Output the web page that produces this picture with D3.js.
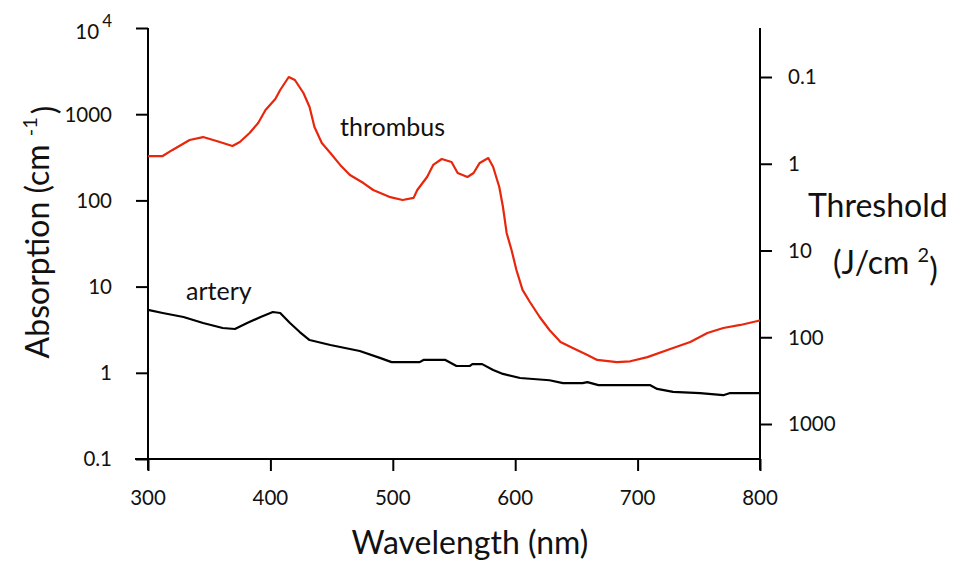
<!DOCTYPE html>
<html>
<head>
<meta charset="utf-8">
<script src="https://cdn.jsdelivr.net/npm/d3@7"></script>
<style>
  body { margin: 0; background: #fff; }
  svg { display: block; font-family: Lato, "Open Sans", sans-serif; }
</style>
</head>
<body>
<svg id="chart" width="953" height="565"></svg>
<script>
// ---- data ----
const wavelengthTicks = [300, 400, 500, 600, 700, 800];
const absorptionTicks = [0.1, 1, 10, 100, 1000, 10000];
const absorptionTickLabels = ["0.1", "1", "10", "100", "1000", "10^4"];
const thresholdTicks = [0.1, 1, 10, 100, 1000];
const thresholdTickLabels = ["0.1", "1", "10", "100", "1000"];

const thrombusWavelength = [300, 312, 320, 334, 345, 356, 369, 375, 383, 390, 396, 404, 408, 415, 420, 427, 432, 436, 442, 449, 457, 465, 476, 484, 498, 508, 517, 520, 528, 533, 540, 548, 553, 561, 566, 571, 578, 582, 587, 590, 593, 597, 601, 606, 612, 620, 628, 637, 647, 659, 667, 683, 694, 708, 729, 743, 757, 770, 784, 798, 800];
const thrombusAbsorption = [327, 327, 385, 502, 543, 489, 428, 476, 605, 790, 1119, 1500, 1909, 2700, 2493, 1762, 1212, 711, 463, 355, 258, 197, 159, 132, 109, 101, 107, 132, 187, 258, 302, 279, 208, 187, 208, 272, 310, 244, 143, 83.8, 41.9, 26.6, 15.6, 9.15, 6.63, 4.44, 3.14, 2.28, 1.94, 1.61, 1.41, 1.33, 1.36, 1.52, 1.94, 2.28, 2.90, 3.31, 3.59, 3.99, 4.05];

const arteryWavelength = [300, 312, 329, 345, 361, 371, 381, 392, 402, 408, 416, 424, 432, 449, 473, 490, 499, 522, 525, 543, 552, 563, 565, 573, 582, 590, 604, 628, 639, 655, 659, 668, 710, 716, 729, 751, 770, 775, 800];
const arteryAbsorption = [5.36, 4.94, 4.44, 3.78, 3.31, 3.22, 3.78, 4.44, 5.07, 4.94, 3.78, 2.97, 2.40, 2.10, 1.79, 1.48, 1.33, 1.33, 1.41, 1.41, 1.20, 1.20, 1.26, 1.26, 1.08, 0.97, 0.87, 0.82, 0.76, 0.76, 0.78, 0.72, 0.72, 0.65, 0.60, 0.58, 0.55, 0.58, 0.58];

// ---- layout ----
const svg = d3.select("#chart");
const mLeft = 148, mRight = 760, mTop = 28, mBottom = 459;

const x = d3.scaleLinear().domain([300, 800]).range([mLeft, mRight]);
const y = d3.scaleLog().domain([0.1, 10000]).range([mBottom, mTop]);
const yR = d3.scaleLog().domain([0.1, 1000]).range([77, 424]);

const tickFont = 20.5;
const titleFont = 32;

// left axis
const gL = svg.append("g").attr("transform", `translate(${mLeft},0)`)
  .call(d3.axisLeft(y).tickValues(absorptionTicks).tickSize(12).tickFormat(() => ""));
gL.select(".domain").remove();
gL.selectAll(".tick line").attr("stroke", "#000").attr("stroke-width", 2);
svg.append("line").attr("x1", mLeft).attr("x2", mLeft).attr("y1", mTop).attr("y2", mBottom + 11)
  .attr("stroke", "#000").attr("stroke-width", 2);

absorptionTicks.forEach((v, i) => {
  const lab = absorptionTickLabels[i];
  const t = svg.append("text").attr("x", 112).attr("y", y(v)).attr("dy", "0.36em")
    .attr("text-anchor", "end").attr("font-size", tickFont).attr("fill", "#111");
  if (lab.includes("^")) {
    const [b, e] = lab.split("^");
    t.attr("dy", "0.55em");
    t.append("tspan").text(b);
    t.append("tspan").attr("dx", 3).attr("dy", "-0.75em").attr("font-size", 17).text(e);
  } else {
    t.text(lab);
  }
});

// bottom axis
const gB = svg.append("g").attr("transform", `translate(0,${mBottom})`)
  .call(d3.axisBottom(x).tickValues(wavelengthTicks).tickSize(12).tickFormat(() => ""));
gB.select(".domain").remove();
gB.selectAll(".tick line").attr("stroke", "#000").attr("stroke-width", 2);
svg.append("line").attr("x1", 135).attr("x2", mRight).attr("y1", mBottom).attr("y2", mBottom)
  .attr("stroke", "#000").attr("stroke-width", 2);
wavelengthTicks.forEach(v => {
  svg.append("text").attr("x", x(v)).attr("y", 505).attr("text-anchor", "middle")
    .attr("font-size", tickFont).attr("fill", "#111").text(v);
});

// right axis
const gR = svg.append("g").attr("transform", `translate(${mRight},0)`)
  .call(d3.axisRight(yR).tickValues(thresholdTicks).tickSize(12).tickFormat(() => ""));
gR.select(".domain").remove();
gR.selectAll(".tick line").attr("stroke", "#000").attr("stroke-width", 2);
svg.append("line").attr("x1", mRight).attr("x2", mRight).attr("y1", mTop).attr("y2", mBottom + 11)
  .attr("stroke", "#000").attr("stroke-width", 2);
thresholdTicks.forEach((v, i) => {
  svg.append("text").attr("x", 788).attr("y", yR(v)).attr("dy", "0.36em")
    .attr("font-size", tickFont).attr("fill", "#111").text(thresholdTickLabels[i]);
});

// lines
const line = d3.line().x(d => x(d[0])).y(d => y(d[1])).curve(d3.curveLinear);
svg.append("path")
  .datum(thrombusWavelength.map((w, i) => [w, thrombusAbsorption[i]]))
  .attr("d", line).attr("fill", "none").attr("stroke", "#e8260c").attr("stroke-width", 2.2)
  .attr("stroke-linejoin", "round");
svg.append("path")
  .datum(arteryWavelength.map((w, i) => [w, arteryAbsorption[i]]))
  .attr("d", line).attr("fill", "none").attr("stroke", "#000").attr("stroke-width", 2.2)
  .attr("stroke-linejoin", "round");

// annotations
svg.append("text").attr("x", 340).attr("y", 136).attr("font-size", 25).attr("fill", "#111").text("thrombus");
svg.append("text").attr("x", 186).attr("y", 300).attr("font-size", 25).attr("fill", "#111").text("artery");

// axis titles
svg.append("text").attr("x", 470).attr("y", 554).attr("text-anchor", "middle")
  .attr("font-size", titleFont).attr("fill", "#111").text("Wavelength (nm)");

const yt = svg.append("text").attr("transform", "translate(49,232) rotate(-90)")
  .attr("text-anchor", "middle").attr("font-size", titleFont).attr("fill", "#111");
yt.append("tspan").text("Absorption (cm ");
yt.append("tspan").attr("dy", "-0.6em").attr("font-size", 20).text("-1");
yt.append("tspan").attr("dy", "0.6em").attr("dx", 3).text(")");

svg.append("text").attr("x", 808).attr("y", 217).attr("font-size", titleFont).attr("fill", "#111").text("Threshold");
const rt = svg.append("text").attr("x", 833).attr("y", 274).attr("font-size", titleFont).attr("fill", "#111");
rt.append("tspan").text("(J/cm ");
rt.append("tspan").attr("dy", "-0.6em").attr("font-size", 20).text("2");
rt.append("tspan").attr("dy", "0.6em").text(")");
</script>
</body>
</html>
